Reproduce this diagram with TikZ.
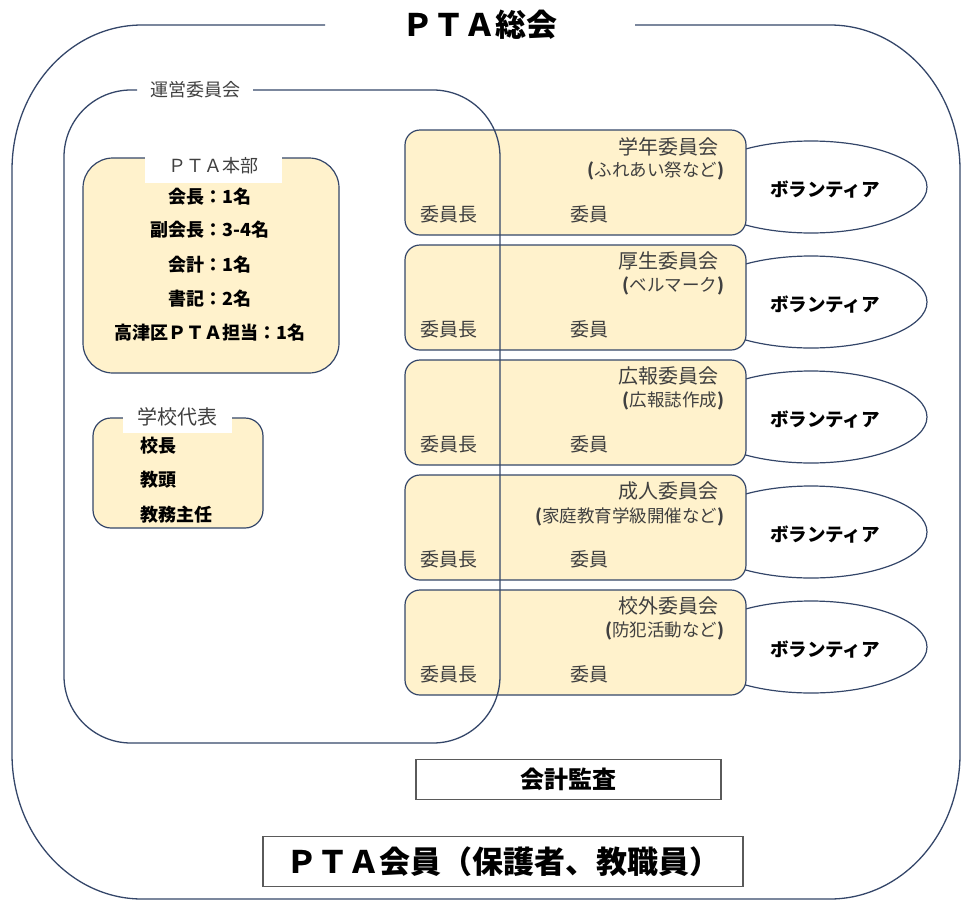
\documentclass[tikz,border=0pt]{standalone}
\usepackage{fontspec}
\setmainfont{Noto Sans CJK JP}
\usetikzlibrary{calc,shapes.geometric}
\definecolor{framec}{RGB}{52,70,105}
\definecolor{boxfill}{RGB}{255,242,204}
\definecolor{txtgray}{RGB}{64,64,64}
\definecolor{plainc}{RGB}{90,90,90}
\newcommand\myfs[1]{\fontsize{#1}{#1}\selectfont}
\begin{document}
\begin{tikzpicture}[x=1pt,y=-1pt,
  framepath/.style={draw=framec,line width=1.3},
  ybox/.style={draw=framec,line width=1.2,fill=boxfill,rectangle,rounded corners=#1,inner sep=0pt},
  ybox/.default=15,
  volel/.style={draw=framec,line width=1.2,fill=white,ellipse,inner sep=0pt,minimum width=232,minimum height=92},
  voltext/.style={font=\myfs{18.5}\bfseries,text=black,inner sep=0pt},
  ctitle/.style={font=\myfs{20},text=txtgray,inner sep=0pt,anchor=east},
  csub/.style={font=\myfs{17.5},text=txtgray,inner sep=0pt,anchor=east},
  clabel/.style={font=\myfs{19},text=txtgray,inner sep=0pt},
  tag/.style={fill=white,inner sep=0pt,text=txtgray},
  member/.style={font=\myfs{18}\bfseries,text=black,inner sep=0pt},
  plainbox/.style={draw=plainc,line width=1.5,fill=white,rectangle,inner sep=0pt,text=black},
  bigtitle/.style={font=\myfs{31}\bfseries,text=black,inner sep=0pt}
]
\useasboundingbox (0,0) rectangle (961,900);

% outer frame (PTA総会)
\draw[framepath] (635,25) -- (830,25) .. controls (901.8,25) and (960,89.9) .. (960,170)
  -- (960,754) .. controls (960,834.1) and (901.8,899) .. (830,899)
  -- (142,899) .. controls (70.2,899) and (12,834.1) .. (12,754)
  -- (12,170) .. controls (12,89.9) and (70.2,25) .. (142,25) -- (325,25);
\node[bigtitle] (title) at (480,25) {ＰＴＡ総会};

% committees with volunteers
\foreach \n/\t/\ti/\su in {1/130/学年委員会/ふれあい祭など,2/245/厚生委員会/ベルマーク,3/360/広報委員会/広報誌作成,4/475/成人委員会/家庭教育学級開催など,5/590/校外委員会/防犯活動など}{
  \node[volel] (v\n) at (811,\t+57) {};
  \node[voltext] (vl\n) at ($(v\n.center)+(14,3)$) {ボランティア};
  \node[ybox,minimum width=341,minimum height=105] (c\n) at (575.5,\t+52.5) {};
  \node[ctitle] (ct\n) at ($(c\n.north east)+(-28,17)$) {\ti};
  \node[csub] (cs\n) at ($(c\n.north east)+(-22,42)$) {{\bfseries(}\su{\bfseries)}};
  \node[clabel] (ch\n) at ($(c\n.north west)+(45,85)$) {委員長};
  \node[clabel] (cm\n) at ($(c\n.north west)+(185,85)$) {委員};
}

% 運営委員会 frame
\draw[framepath] (253,90) -- (433,90) .. controls (470,90) and (500,120) .. (500,157)
  -- (500,676) .. controls (500,713) and (470,743) .. (433,743)
  -- (131,743) .. controls (94,743) and (64,713) .. (64,676)
  -- (64,157) .. controls (64,120) and (94,90) .. (131,90) -- (137,90);
\node[inner sep=0pt,text=txtgray,font=\myfs{18}] (unei) at (195,90) {運営委員会};

% PTA本部
\node[ybox=30,minimum width=256,minimum height=215] (honbu) at (211,265.5) {};
\node[tag,minimum width=137,minimum height=34,font=\myfs{18}] (honbuL) at (213.5,166) {ＰＴＡ本部};
\node[member] (h1) at (210,197) {会長：1名};
\node[member] (h2) at (210,230) {副会長：3-4名};
\node[member] (h3) at (210,265) {会計：1名};
\node[member] (h4) at (210,299) {書記：2名};
\node[member] (h5) at (210,333) {高津区ＰＴＡ担当：1名};

% 学校代表
\node[ybox=18,minimum width=170,minimum height=110] (gakko) at (178,473) {};
\node[tag,minimum width=109,minimum height=33,font=\myfs{20}] (gakkoL) at (177.5,416.5) {学校代表};
\node[member,anchor=west] (g1) at (140,446) {校長};
\node[member,anchor=west] (g2) at (140,480) {教頭};
\node[member,anchor=west] (g3) at (140,515) {教務主任};

% bottom boxes
\node[plainbox,minimum width=305,minimum height=40,font=\myfs{24}\bfseries] (kansa) at (568.5,779.5) {会計監査};
\node[plainbox,minimum width=480,minimum height=50,font=\myfs{31}\bfseries] (kaiin) at (503,861.5) {ＰＴＡ会員（保護者、教職員）};
\end{tikzpicture}
\end{document}
